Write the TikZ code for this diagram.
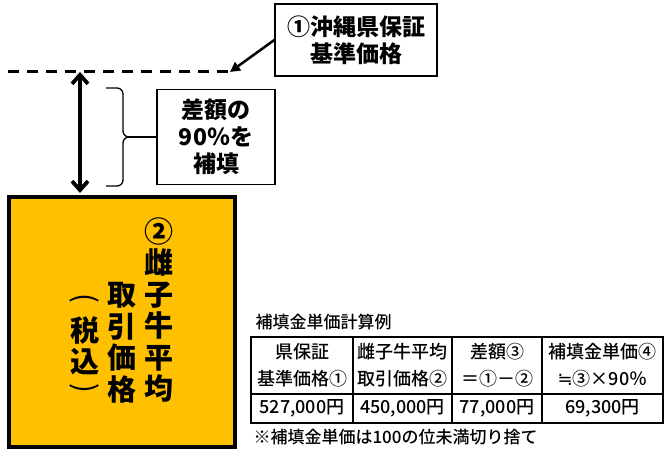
\documentclass[tikz,border=0pt]{standalone}
\usepackage{fontspec}
\newfontfamily\jp{Noto Sans CJK JP}
\newfontfamily\jpm{Noto Sans CJK JP}[UprightFont={* Medium}]
\newfontfamily\symb{DejaVu Sans}
\usetikzlibrary{arrows.meta, positioning, calc}
\definecolor{gold}{HTML}{FFC000}

\begin{document}
\begin{tikzpicture}[x=1pt, y=-1pt,
    callout/.style={draw, line width=1.4pt, fill=white, align=center, inner sep=0pt,
      font=\jp\bfseries\fontsize{23}{27}\selectfont},
    cell/.style={draw, line width=1.2pt, inner sep=0pt, outer sep=0pt, align=center,
      font=\jpm\fontsize{18}{27}\selectfont},
    vcol/.style={inner sep=0pt, align=center, anchor=south,
      font=\jp\bfseries\fontsize{29}{31.5}\selectfont},
    vpar/.style={inner sep=0pt, rotate=-90, font=\jp\fontsize{29}{30}\selectfont},
    brace/.style={line width=1.3pt, rounded corners=6pt}]
  \useasboundingbox (0,0) rectangle (670,457);
  % guaranteed price level
  \coordinate (dashend) at (230,72);
  \coordinate (lvl) at (80,72);
  \draw[line width=3pt, dash pattern=on 11pt off 8pt] (8,72) -- (dashend);
  \node[callout, minimum width=162, minimum height=72] (guarantee) at (356,40)
      {①沖縄県保証\\基準価格};
  \draw[line width=2.5pt, -{Triangle[length=10pt,width=10pt]}] (guarantee.west) -- (dashend);
  % average price box
  \node[draw, line width=4pt, fill=gold, minimum width=226, minimum height=250] (price)
      at (122,322) {};
  \node[vcol] (col1) at (159,403) {②\\雌\\子\\牛\\平\\均};
  \node[vcol] (col2) at (122,403) {取\\引\\価\\格};
  \node[vcol, anchor=center] (col3) at (85,346) {税\\込};
  \node[vpar] (lpar) at (85,298) {(};
  \node[vpar] (rpar) at (85,388) {)};
  % difference
  \draw[line width=3.8pt, {Straight Barb[length=9pt,width=16pt]}-{Straight Barb[length=9pt,width=16pt]},
      shorten >=2pt] (lvl) -- (lvl |- price.north);
  \coordinate (tip) at (129,137);
  \draw[brace] (106,88) -- (123,88) -- (123,137) -- (tip);
  \draw[brace] (tip) -- (123,137) -- (123,186) -- (106,186);
  \node[callout, minimum width=118, minimum height=95] (diff) at (216,137)
      {差額の\\90％を\\補填};
  \draw[line width=1.3pt] (tip) -- (diff.west);
  % example table
  \node[anchor=west, font=\jpm\fontsize{17}{20}\selectfont] (title) at (252,322) {補填金単価計算例};
  \node[cell, minimum width=102, minimum height=57] (h1) at (302,365.5) {県保証\\基準価格①};
  \node[cell, minimum width=99, minimum height=57, right=0pt of h1] (h2) {雌子牛平均\\取引価格②};
  \node[cell, minimum width=90, minimum height=57, right=0pt of h2] (h3) {差額③\\＝①－②};
  \node[cell, minimum width=121, minimum height=57, right=0pt of h3] (h4) {補填金単価④\\{\symb ≒}③×90％};
  \node[cell, minimum width=102, minimum height=29, below=0pt of h1] (d1) {527,000円};
  \node[cell, minimum width=99, minimum height=29, below=0pt of h2] (d2) {450,000円};
  \node[cell, minimum width=90, minimum height=29, below=0pt of h3] (d3) {77,000円};
  \node[cell, minimum width=121, minimum height=29, below=0pt of h4] (d4) {69,300円};
  \draw[line width=2pt] (h1.south west) -- (h4.south east);
  \node[anchor=west, font=\jpm\fontsize{17}{20}\selectfont] (note) at (250,437)
      {※補填金単価は100の位未満切り捨て};
\end{tikzpicture}
\end{document}
